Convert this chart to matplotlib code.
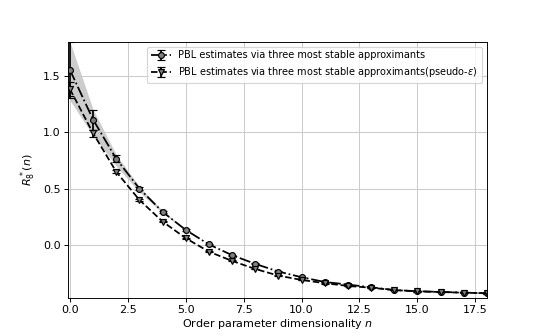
import numpy as np
import matplotlib
matplotlib.use("Agg")
from matplotlib import pyplot as plt

n = list(range(19))

# three most stable approximants
r_stable = [1.55, 1.11, 0.764, 0.50, 0.295, 0.135, 0.007, -0.088, -0.165, -0.233,
            -0.283, -0.325, -0.348, -0.372, -0.396, -0.407, -0.413, -0.419, -0.425]
err_stable = [0.25, 0.09, 0.03, 0.015, 0.01, 0.008, 0.006, 0.005, 0.005, 0.004,
              0.004, 0.004, 0.003, 0.003, 0.003, 0.003, 0.003, 0.003, 0.003]

# pseudo-epsilon
r_pseudo = [1.38, 0.99, 0.649, 0.40, 0.209, 0.062, -0.057, -0.139, -0.21, -0.269,
            -0.307, -0.336, -0.36, -0.376, -0.397, -0.408, -0.414, -0.42, -0.425]
err_pseudo = [0.06, 0.03, 0.012, 0.008, 0.006, 0.005, 0.005, 0.004, 0.004, 0.004,
              0.003, 0.003, 0.003, 0.003, 0.003, 0.003, 0.003, 0.003, 0.003]

# shaded uncertainty band near small n
band_n = [0, 1, 2, 3, 4, 5]
band_hi = [1.80, 1.20, 0.80, 0.52, 0.305, 0.14]
band_lo = [1.28, 0.97, 0.70, 0.47, 0.285, 0.13]

DPI = 541 / 6.4
plt.figure(figsize=(6.4, 336 / DPI), dpi=DPI)
plt.fill_between(band_n, band_lo, band_hi, color="gray", alpha=0.4, linewidth=0)

plt.errorbar(n, r_stable, yerr=err_stable, fmt="o-.", color="black", markersize=5,
             markerfacecolor="gray", markeredgecolor="black", capsize=3,
             label="PBL estimates via three most stable approximants")
plt.errorbar(n, r_pseudo, yerr=err_pseudo, fmt="v--", color="black", markersize=5,
             markerfacecolor="gray", markeredgecolor="black", capsize=3,
             label="PBL estimates via three most stable approximants(pseudo-$\\epsilon$)")

plt.xlim(-0.1, 18)
plt.ylim(-0.47, 1.8)
plt.yticks([0.0, 0.5, 1.0, 1.5])
plt.tick_params(labelsize=9.5, pad=2.5)
plt.xlabel("Order parameter dimensionality $n$", fontsize=9.5, labelpad=1)
plt.ylabel("$R_8^*(n)$", fontsize=9.5)
plt.grid(True, color="#c8c8c8")
plt.legend(loc="upper right", fontsize="small")
plt.subplots_adjust(left=0.125, right=0.9, top=0.876, bottom=0.112)

plt.savefig("out.png", dpi=DPI)
